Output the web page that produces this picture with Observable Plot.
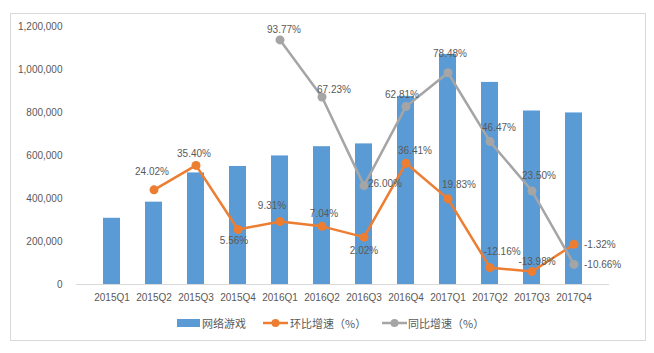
<!DOCTYPE html>
<html><head><meta charset="utf-8">
<script src="https://cdn.jsdelivr.net/npm/d3@7"></script>
<script src="https://cdn.jsdelivr.net/npm/@observablehq/plot@0.6"></script>
<style>
body{margin:0;background:#fff;}
#wrap{position:relative;width:654px;height:353px;overflow:hidden;font-family:"Liberation Sans","Noto Sans CJK SC",sans-serif;}
#frame{position:absolute;left:10px;top:13px;width:634px;height:326px;border:1px solid #d9d9d9;}
#chart{position:absolute;left:0;top:0;}
.legtxt{position:absolute;top:315px;height:16px;line-height:16px;font-size:11px;color:#595959;font-family:"Noto Sans CJK SC",sans-serif;white-space:nowrap;}
#legsvg{position:absolute;left:0;top:0;}
</style></head>
<body>
<div id="wrap"><div id="frame"></div><div id="chart"></div>
<svg id="legsvg" width="654" height="353"></svg>
<div class="legtxt" style="left:202px">网络游戏</div>
<div class="legtxt" style="left:290px">环比增速（%）</div>
<div class="legtxt" style="left:408px">同比增速（%）</div>
</div>
<script>
const quarters = ["2015Q1","2015Q2","2015Q3","2015Q4","2016Q1","2016Q2","2016Q3","2016Q4","2017Q1","2017Q2","2017Q3","2017Q4"];
const revenue = [308000, 383000, 519000, 549000, 598000, 641000, 654000, 875000, 1070000, 940000, 807000, 798000];
const qoqGrowth = [null, 24.02, 35.40, 5.56, 9.31, 7.04, 2.02, 36.41, 19.83, -12.16, -13.98, -1.32];
const yoyGrowth = [null, null, null, null, 93.77, 67.23, 26.00, 62.81, 78.48, 46.47, 23.50, -10.66];
const yTicks = [0, 200000, 400000, 600000, 800000, 1000000, 1200000];
// label placement relative to its point: [dx, dy, anchor]
const qoqLabelPos = [null, [-2,-18,"middle"], [-2,-12,"middle"], [-4,11,"middle"], [-8,-16,"middle"], [2,-13,"middle"], [0,14,"middle"], [9,-12,"middle"], [11,-14,"middle"], [12,-16,"middle"], [5,-10,"middle"], [10,0,"start"]];
const yoyLabelPos = [null, null, null, null, [4,-10,"middle"], [-5,-7,"start"], [4,-2,"start"], [-4,-12,"middle"], [2,-19,"middle"], [9,-14,"middle"], [7,-15,"middle"], [10,0,"start"]];

const BLUE = "#5B9BD5", ORANGE = "#ED7D31", GRAY = "#A5A5A5", TXT = "#595959";
// hidden secondary axis: -20% .. 100% mapped onto 0 .. 1,200,000
const pctY = p => (p + 20) * 10000;

const bars = quarters.map((q, i) => ({q, v: revenue[i]}));
const qoq = quarters.map((q, i) => ({q, p: qoqGrowth[i], pos: qoqLabelPos[i]})).filter(d => d.p != null);
const yoy = quarters.map((q, i) => ({q, p: yoyGrowth[i], pos: yoyLabelPos[i]})).filter(d => d.p != null);
const fmtPct = p => p.toFixed(2) + "%";

const labelMarks = [...qoq, ...yoy].map(d => Plot.text([d], {
  x: "q", y: e => pctY(e.p), text: e => fmtPct(e.p),
  dx: d.pos[0], dy: d.pos[1], textAnchor: d.pos[2], fill: TXT, fontSize: 10
}));

const chart = Plot.plot({
  width: 654, height: 353,
  marginLeft: 76, marginRight: 45, marginTop: 26, marginBottom: 69,
  style: {fontFamily: '"Liberation Sans","Noto Sans CJK SC",sans-serif', fontSize: "10px", color: TXT, background: "transparent"},
  x: {domain: quarters, padding: 0.6, label: null},
  y: {domain: [0, 1200000], label: null},
  marks: [
    Plot.barY(bars, {x: "q", y: "v", fill: BLUE}),
    Plot.ruleY([0], {stroke: "#d9d9d9", strokeWidth: 1}),
    Plot.axisY({ticks: yTicks, tickFormat: d3.format(","), tickSize: 0, tickPadding: 14, label: null, fill: TXT}),
    Plot.axisX({tickSize: 0, tickPadding: 9, label: null, fill: TXT}),
    Plot.line(qoq, {x: "q", y: d => pctY(d.p), stroke: ORANGE, strokeWidth: 2.5}),
    Plot.dot(qoq, {x: "q", y: d => pctY(d.p), r: 4.5, fill: ORANGE}),
    Plot.line(yoy, {x: "q", y: d => pctY(d.p), stroke: GRAY, strokeWidth: 2.5}),
    Plot.dot(yoy, {x: "q", y: d => pctY(d.p), r: 4.5, fill: GRAY}),
    ...labelMarks
  ]
});
document.getElementById("chart").appendChild(chart);

// legend swatches
const leg = d3.select("#legsvg");
leg.append("rect").attr("x", 177).attr("y", 319).attr("width", 23).attr("height", 8).attr("fill", BLUE);
[[263, ORANGE], [382, GRAY]].forEach(([x0, c]) => {
  leg.append("line").attr("x1", x0).attr("x2", x0 + 25).attr("y1", 323).attr("y2", 323).attr("stroke", c).attr("stroke-width", 2.5);
  leg.append("circle").attr("cx", x0 + 12.5).attr("cy", 323).attr("r", 4).attr("fill", c);
});
</script>
</body></html>
